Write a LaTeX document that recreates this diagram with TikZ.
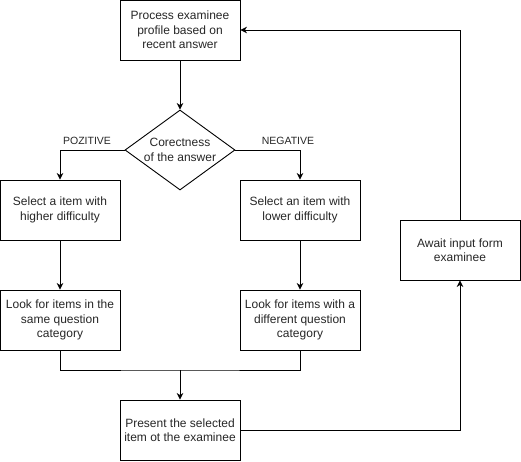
\documentclass[tikz,border=0pt]{standalone}
\usepackage{fontspec}
\setmainfont{Liberation Sans}
\usetikzlibrary{shapes.geometric,arrows.meta}
\begin{document}
\begin{tikzpicture}[x=1pt,y=-1pt,
  every node/.style={font=\fontsize{12}{14.5}\selectfont, text=black!85},
  stepbox/.style={draw=black, line width=0.9pt, minimum width=120pt, minimum height=60pt,
    align=center, inner sep=0pt},
  decision/.style={draw=black, line width=0.9pt, diamond, minimum width=110pt, minimum height=80pt,
    inner sep=0pt, align=center},
  link/.style={draw=black, line width=0.9pt, -{Stealth[length=6.5pt,width=6.5pt,inset=2pt]}},
  plain/.style={draw=black, line width=0.9pt},
  branch/.style={font=\fontsize{10.5}{12}\selectfont}]
\useasboundingbox (0,0) rectangle (521,461);

\node[stepbox] (process) at (180,30) {Process examinee\\profile based on\\recent answer};
\node[decision, aspect=1.375] (check) at (180,150) {Corectness\\of the answer};
\node[stepbox] (higher) at (60,210) {Select a item with\\higher difficulty};
\node[stepbox] (lower) at (300,210) {Select an item with\\lower difficulty};
\node[stepbox] (same) at (60,320) {Look for items in the\\same question\\category};
\node[stepbox] (diff) at (300,320) {Look for items with a\\different question\\category};
\node[stepbox] (present) at (180,430) {Present the selected\\item ot the examinee};
\node[stepbox] (await) at (460,250) {Await input form\\examinee};

\coordinate (join) at (180,370);

\draw[link] (process) -- (check);
\draw[link] (check.west) -| (higher.north);
\draw[link] (check.east) -| (lower.north);
\node[branch] (pos) at (87,141) {POZITIVE};
\node[branch] (neg) at (288,141) {NEGATIVE};
\draw[link] (higher) -- (same);
\draw[link] (lower) -- (diff);
\draw[plain] (same.south) |- (join) -| (diff.south);
\draw[link] (join) -- (present);
\draw[link] (present.east) -| (await.south);
\draw[link] (await.north) |- (process.east);
\end{tikzpicture}
\end{document}
